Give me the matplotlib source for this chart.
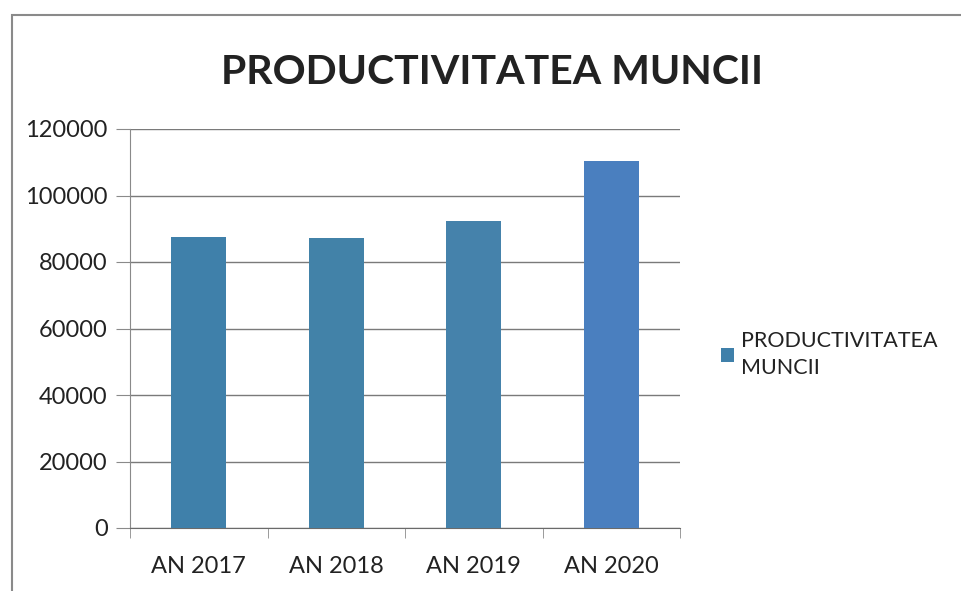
import matplotlib
matplotlib.use("Agg")
import matplotlib.pyplot as plt
from matplotlib.patches import Rectangle

# data
years = ["AN 2017", "AN 2018", "AN 2019", "AN 2020"]
productivity = [87600, 87300, 92400, 110400]
bar_colors = ["#3f80aa", "#4282a8", "#4582ab", "#4a7fbf"]

plt.rcParams['font.family'] = ['Lato', 'DejaVu Sans']

fig = plt.figure(figsize=(9.62, 5.91), dpi=100)
ax = fig.add_axes([130 / 962, 1 - 528 / 591, 550 / 962, 399 / 591])

bars = ax.bar(years, productivity, width=0.4, color=bar_colors,
              label="PRODUCTIVITATEA\nMUNCII", zorder=3)

ax.set_ylim(0, 120000)
ax.set_yticks(range(0, 120001, 20000))
ax.set_xlim(-0.5, 3.5)
ax.yaxis.grid(True, color="#7a7a7a", linewidth=1.0, zorder=0)
ax.tick_params(axis="y", length=10, color="#8a8a8a", labelsize=17, pad=6,
               labelcolor="#222222")
ax.tick_params(axis="x", length=0, labelsize=17, pad=20, labelcolor="#222222")
# category boundary ticks
ax.set_xticks([-0.5, 0.5, 1.5, 2.5, 3.5], minor=True)
ax.tick_params(axis="x", which="minor", length=7, color="#8a8a8a")

for s in ["top", "right"]:
    ax.spines[s].set_visible(False)
ax.spines["left"].set_color("#8a8a8a")
ax.spines["bottom"].set_color("#6a6a6a")

fig.text(492 / 962, 1 - 72 / 591, "PRODUCTIVITATEA MUNCII",
         ha="center", va="center", fontsize=29.5, fontweight="bold",
         color="#222222")

leg = ax.legend(loc="center left", bbox_to_anchor=(1.04, 0.435), frameon=False,
                fontsize=15.5, handlelength=0.6, handleheight=0.6,
                handletextpad=0.3, labelcolor="#222222")
for t in leg.get_texts():
    t.set_linespacing(1.45)

# chart border
fig.patches.append(Rectangle((12 / 962, -0.05), 1.0, 1 - 15 / 591 + 0.05,
                             transform=fig.transFigure, fill=False,
                             edgecolor="#8a8a8a", linewidth=1.5))

fig.savefig("out.png", dpi=100)
